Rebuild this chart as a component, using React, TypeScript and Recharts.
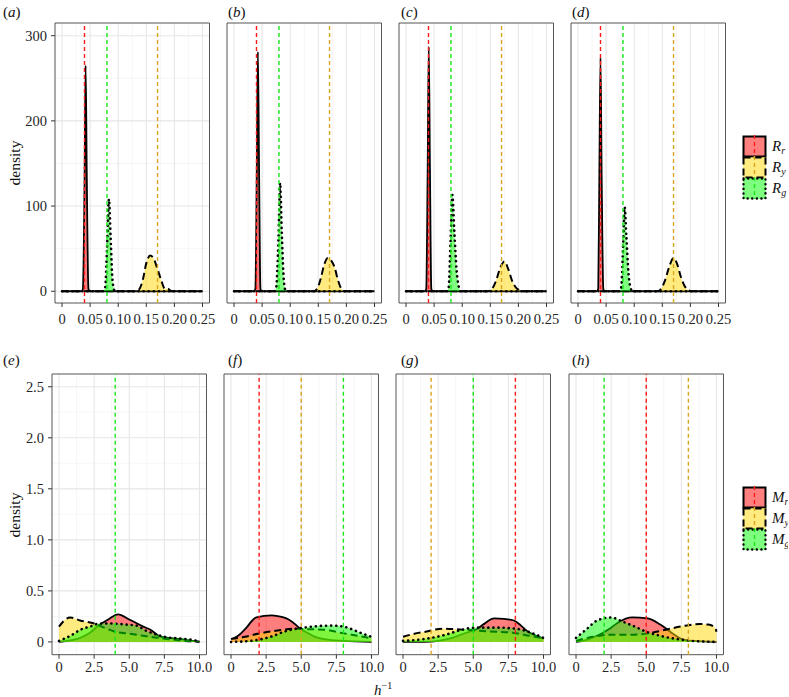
import React from 'react';
import { ComposedChart, Area, XAxis, YAxis, CartesianGrid, ReferenceLine, ReferenceArea } from 'recharts';

type Pt = [number, number];

const FONT = '"Times New Roman", "Liberation Serif", "Nimbus Roman", Times, serif';

// ---- tick values / labels ----
const rXTicks = [0, 0.05, 0.1, 0.15, 0.2, 0.25];
const rXLabels = ['0', '0.05', '0.10', '0.15', '0.20', '0.25'];
const rXMinor = [0.025, 0.075, 0.125, 0.175, 0.225];
const rYTicks = [0, 100, 200, 300];
const rYLabels = ['0', '100', '200', '300'];
const rYMinor = [50, 150, 250];

const mXTicks = [0, 2.5, 5, 7.5, 10];
const mXLabels = ['0', '2.5', '5.0', '7.5', '10.0'];
const mXMinor = [1.25, 3.75, 6.25, 8.75];
const mYTicks = [0, 0.5, 1, 1.5, 2, 2.5];
const mYLabels = ['0', '0.5', '1.0', '1.5', '2.0', '2.5'];
const mYMinor = [0.25, 0.75, 1.25, 1.75, 2.25];

const panelLabels = ['a', 'b', 'c', 'd', 'e', 'f', 'g', 'h'];

// ---- reference (true) values: [red, yellow, green] ----
const rTrue = [
  [0.04, 0.17, 0.08],
  [0.04, 0.17, 0.08],
  [0.04, 0.17, 0.08],
  [0.04, 0.17, 0.08],
];
const mTrue = [
  [4, 4, 4],
  [2, 5, 8],
  [8, 2, 5],
  [5, 8, 2],
];

// ---- densities, top row (R) ----
const Rr_a: Pt[] = [[0, 0], [0.034, 0], [0.037, 2], [0.040, 120], [0.042, 265], [0.044, 140], [0.047, 3], [0.050, 0], [0.25, 0]];
const Ry_a: Pt[] = [[0, 0], [0.13, 0], [0.137, 2], [0.144, 14], [0.150, 33], [0.157, 42], [0.164, 37], [0.170, 26], [0.177, 12], [0.183, 3], [0.188, 3], [0.195, 0], [0.25, 0]];
const Rg_a: Pt[] = [[0, 0], [0.073, 0], [0.077, 5], [0.080, 50], [0.0835, 108], [0.087, 55], [0.090, 12], [0.094, 0], [0.25, 0]];

const Rr_b: Pt[] = [[0, 0], [0.035, 0], [0.038, 3], [0.0405, 140], [0.0425, 281], [0.0445, 150], [0.047, 3], [0.049, 0], [0.25, 0]];
const Ry_b: Pt[] = [[0, 0], [0.142, 0], [0.148, 3], [0.154, 14], [0.160, 30], [0.167, 39], [0.173, 36], [0.179, 28], [0.185, 13], [0.191, 3], [0.197, 0], [0.25, 0]];
const Rg_b: Pt[] = [[0, 0], [0.072, 0], [0.075, 4], [0.079, 60], [0.082, 127], [0.085, 70], [0.088, 20], [0.091, 2], [0.094, 0], [0.25, 0]];

const Rr_c: Pt[] = [[0, 0], [0.033, 0], [0.036, 3], [0.0385, 140], [0.0405, 287], [0.0425, 150], [0.045, 3], [0.047, 0], [0.25, 0]];
const Ry_c: Pt[] = [[0, 0], [0.145, 0], [0.152, 2], [0.160, 12], [0.168, 28], [0.175, 35], [0.182, 26], [0.189, 12], [0.196, 4], [0.203, 1], [0.209, 0], [0.25, 0]];
const Rg_c: Pt[] = [[0, 0], [0.073, 0], [0.076, 5], [0.079, 55], [0.0825, 113], [0.086, 70], [0.090, 25], [0.094, 5], [0.097, 0], [0.25, 0]];

const Rr_d: Pt[] = [[0, 0], [0.033, 0], [0.036, 3], [0.038, 140], [0.040, 274], [0.042, 140], [0.045, 3], [0.047, 0], [0.25, 0]];
const Ry_d: Pt[] = [[0, 0], [0.142, 0], [0.148, 3], [0.155, 13], [0.162, 28], [0.170, 39], [0.177, 31], [0.183, 17], [0.190, 6], [0.197, 1], [0.202, 0], [0.25, 0]];
const Rg_d: Pt[] = [[0, 0], [0.074, 0], [0.077, 5], [0.080, 50], [0.083, 99], [0.086, 65], [0.090, 20], [0.094, 3], [0.097, 0], [0.25, 0]];

// ---- densities, bottom row (M) ----
const Mr_e: Pt[] = [[0, 0], [1, 0.02], [1.6, 0.045], [2.2, 0.09], [2.8, 0.16], [3.5, 0.22], [4.2, 0.27], [5, 0.22], [6, 0.15], [6.5, 0.12], [7.1, 0.06], [7.5, 0.045], [8.5, 0.03], [9.5, 0.01], [10, 0]];
const My_e: Pt[] = [[0, 0.15], [0.3, 0.2], [0.8, 0.24], [1.5, 0.21], [2.5, 0.18], [3.2, 0.14], [4, 0.10], [5, 0.08], [6, 0.06], [7, 0.04], [8, 0.025], [9, 0.01], [10, 0.005]];
const Mg_e: Pt[] = [[0, 0.01], [0.8, 0.06], [1.6, 0.125], [2.2, 0.15], [2.9, 0.18], [3.8, 0.18], [4.8, 0.17], [5.5, 0.16], [6.2, 0.11], [7, 0.07], [7.7, 0.045], [8.5, 0.035], [9.5, 0.02], [10, 0.005]];

const Mr_f: Pt[] = [[0, 0.026], [0.5, 0.06], [1, 0.125], [1.8, 0.24], [2.9, 0.26], [3.6, 0.245], [4.1, 0.22], [4.6, 0.17], [4.9, 0.13], [5.3, 0.10], [6, 0.05], [7, 0.02], [8, 0.01], [10, 0]];
const My_f: Pt[] = [[0, 0.03], [1, 0.05], [1.9, 0.08], [3.2, 0.11], [4.6, 0.13], [5.4, 0.125], [6.6, 0.12], [7.8, 0.09], [9, 0.06], [10, 0.035]];
const Mg_f: Pt[] = [[0, 0], [1.4, 0.01], [2.8, 0.05], [4, 0.11], [5.2, 0.14], [6.2, 0.155], [7.1, 0.16], [8, 0.15], [9.2, 0.09], [10, 0.05]];

const Mr_g: Pt[] = [[0, 0], [1, 0], [2, 0.003], [2.5, 0.01], [3.5, 0.04], [4.5, 0.09], [5.3, 0.13], [5.7, 0.17], [6.5, 0.23], [7.2, 0.225], [7.9, 0.21], [8.4, 0.16], [8.8, 0.11], [9.5, 0.06], [10, 0.03]];
const My_g: Pt[] = [[0, 0.05], [0.8, 0.08], [1.6, 0.10], [2.8, 0.13], [4.2, 0.12], [5.4, 0.11], [6.6, 0.10], [7.8, 0.09], [9, 0.06], [10, 0.035]];
const Mg_g: Pt[] = [[0, 0.01], [1.6, 0.03], [3, 0.07], [4.2, 0.12], [5.1, 0.14], [6.6, 0.14], [8, 0.13], [9.5, 0.07], [10, 0.04]];

const Mr_h: Pt[] = [[0, 0], [0.5, 0.01], [1.5, 0.06], [2.5, 0.14], [3, 0.19], [4, 0.24], [5.1, 0.23], [6, 0.17], [6.8, 0.09], [7.5, 0.03], [8.3, 0.01], [10, 0]];
const My_h: Pt[] = [[0, 0.01], [1.2, 0.05], [2.4, 0.07], [4, 0.07], [5.2, 0.085], [6.4, 0.12], [7.6, 0.155], [8.8, 0.175], [9.4, 0.17], [9.9, 0.14], [10, 0.1]];
const Mg_h: Pt[] = [[0, 0.04], [0.75, 0.125], [1.5, 0.21], [2.5, 0.24], [3.3, 0.2], [4.1, 0.155], [5, 0.10], [6, 0.06], [7.1, 0.03], [8.3, 0.01], [10, 0]];

// ---- styles ----
const FILLS = ['#FF0000', '#FFD700', '#00FF00'];
const VCOLORS = ['#FF1A1A', '#DAA520', '#1AE61A'];
const DASHES: (string | undefined)[] = [undefined, '7 4', '0.1 5'];
const CAPS: ('butt' | 'round')[] = ['butt', 'butt', 'round'];
const WIDTHS = [1.8, 2, 2.6];

const topSeries = [
  [Rr_a, Ry_a, Rg_a],
  [Rr_b, Ry_b, Rg_b],
  [Rr_c, Ry_c, Rg_c],
  [Rr_d, Ry_d, Rg_d],
];
const botSeries = [
  [Mr_e, My_e, Mg_e],
  [Mr_f, My_f, Mg_f],
  [Mr_g, My_g, Mg_g],
  [Mr_h, My_h, Mg_h],
];

const TOPCFG = {
  py: 23.3, ph: 280, lefts: [55.3, 227.3, 398.7, 570.7],
  xDomain: [-0.0125, 0.2625] as [number, number], yDomain: [-13.8, 314.9] as [number, number],
  xTicks: rXTicks, xLabels: rXLabels, xMinor: rXMinor,
  yTicks: rYTicks, yLabels: rYLabels, yMinor: rYMinor, xTickMargin: 7,
};
const BOTCFG = {
  py: 374.3, ph: 280.7, lefts: [52, 224, 396.3, 569],
  xDomain: [-0.5, 10.5] as [number, number], yDomain: [-0.125, 2.625] as [number, number],
  xTicks: mXTicks, xLabels: mXLabels, xMinor: mXMinor,
  yTicks: mYTicks, yLabels: mYLabels, yMinor: mYMinor, xTickMargin: 3,
};
const PW = 154.5;

type Cfg = typeof TOPCFG;

function Panel({ cfg, idx, series, vx }: { cfg: Cfg; idx: number; series: Pt[][]; vx: number[] }) {
  const px = cfg.lefts[idx];
  const showY = idx === 0;
  const tickStyle = { fontFamily: FONT, fontSize: 14.5, fill: '#262626' };
  // a vline hidden under a later vline at the same position is skipped
  const visible = vx.map((x, i) => vx.indexOf(x, i + 1) === -1);
  return (
    <div style={{ position: 'absolute', left: px - 45, top: cfg.py - 10 }}>
      <ComposedChart width={PW + 55} height={cfg.ph + 40} margin={{ top: 10, right: 10, bottom: 0, left: 0 }}>
        <CartesianGrid verticalValues={cfg.xMinor} horizontalValues={cfg.yMinor} stroke="#F2F2F2" strokeWidth={0.7} />
        <CartesianGrid verticalValues={cfg.xTicks} horizontalValues={cfg.yTicks} stroke="#E6E6E6" strokeWidth={1.1} />
        <XAxis
          type="number"
          dataKey="x"
          domain={cfg.xDomain}
          ticks={cfg.xTicks}
          interval={0}
          allowDataOverflow
          height={30}
          tickSize={4}
          tickMargin={cfg.xTickMargin}
          axisLine={false}
          tickLine={{ stroke: '#333' }}
          tick={tickStyle}
          tickFormatter={(v: number) => cfg.xLabels[cfg.xTicks.indexOf(v)] ?? String(v)}
        />
        <YAxis
          type="number"
          domain={cfg.yDomain}
          ticks={cfg.yTicks}
          interval={0}
          allowDataOverflow
          width={45}
          tickSize={showY ? 4 : 0}
          tickMargin={4}
          axisLine={false}
          tickLine={showY ? { stroke: '#333' } : false}
          tick={showY ? tickStyle : false}
          tickFormatter={(v: number) => cfg.yLabels[cfg.yTicks.indexOf(v)] ?? String(v)}
        />
        {series.map((pts, i) => (
          <Area
            key={'s' + i}
            data={pts.map(([x, y]) => ({ x, y }))}
            dataKey="y"
            type="monotone"
            stroke="#000"
            strokeWidth={WIDTHS[i]}
            strokeDasharray={DASHES[i]}
            strokeLinecap={CAPS[i]}
            fill={FILLS[i]}
            fillOpacity={0.5}
            dot={false}
            activeDot={false}
            isAnimationActive={false}
          />
        ))}
        {vx.map((x, i) =>
          visible[i] ? (
            <ReferenceLine key={'v' + i} x={x} stroke={VCOLORS[i]} strokeWidth={1.4} strokeDasharray="4 3" />
          ) : null
        )}
        <ReferenceArea
          x1={cfg.xDomain[0]}
          x2={cfg.xDomain[1]}
          y1={cfg.yDomain[0]}
          y2={cfg.yDomain[1]}
          fill="none"
          fillOpacity={0}
          stroke="#555"
          strokeWidth={1}
          ifOverflow="visible"
        />
      </ComposedChart>
    </div>
  );
}

function LegendBox({ top, letter }: { top: number; letter: string }) {
  const subs = ['r', 'y', 'g'];
  return (
    <svg width={46} height={68} style={{ position: 'absolute', left: 742, top }}>
      {subs.map((s, i) => (
        <g key={s}>
          <rect x={1} y={1 + i * 21} width={23} height={21} fill={FILLS[i]} fillOpacity={0.5} stroke="none" />
          <rect
            x={1.5}
            y={1.5 + i * 21}
            width={22}
            height={20}
            fill="none"
            stroke="#000"
            strokeWidth={i === 2 ? 2.4 : 2}
            strokeDasharray={i === 1 ? '7 4' : i === 2 ? '0.1 4.5' : undefined}
            strokeLinecap={i === 2 ? 'round' : 'butt'}
          />
          <line x1={12.5} x2={12.5} y1={i * 21} y2={i * 21 + 22} stroke={VCOLORS[i]} strokeWidth={1.4} strokeDasharray="4 3" />
          <text x={30} y={i * 21 + 16} fontFamily={FONT} fontSize={15} fontStyle="italic" fill="#111">
            {letter}
            <tspan fontSize={10} dy={3}>{s}</tspan>
          </text>
        </g>
      ))}
    </svg>
  );
}

const labelStyle: React.CSSProperties = {
  position: 'absolute',
  fontFamily: FONT,
  fontSize: 15,
  lineHeight: '16px',
  color: '#111',
  whiteSpace: 'nowrap',
};

export default function App() {
  const labelLefts = [3, 228, 401, 572];
  return (
    <div style={{ position: 'absolute', left: 0, top: 0, width: 789, height: 697, background: '#fff', overflow: 'hidden' }}>
      {topSeries.map((s, i) => (
        <Panel key={'t' + i} cfg={TOPCFG} idx={i} series={s} vx={rTrue[i]} />
      ))}
      {botSeries.map((s, i) => (
        <Panel key={'b' + i} cfg={BOTCFG} idx={i} series={s} vx={mTrue[i]} />
      ))}
      {panelLabels.map((l, i) => (
        <div key={l} style={{ ...labelStyle, left: labelLefts[i % 4], top: i < 4 ? 4 : 352 }}>
          (<i>{l}</i>)
        </div>
      ))}
      <div style={{ ...labelStyle, left: 15, top: 163, transform: 'translate(-50%, -50%) rotate(-90deg)', fontSize: 15.5 }}>density</div>
      <div style={{ ...labelStyle, left: 15, top: 515, transform: 'translate(-50%, -50%) rotate(-90deg)', fontSize: 15.5 }}>density</div>
      <div style={{ ...labelStyle, left: 374, top: 678, fontSize: 15 }}>
        <i>h</i>
        <sup style={{ fontSize: 10 }}>−1</sup>
      </div>
      <LegendBox top={135} letter="R" />
      <LegendBox top={486} letter="M" />
    </div>
  );
}
